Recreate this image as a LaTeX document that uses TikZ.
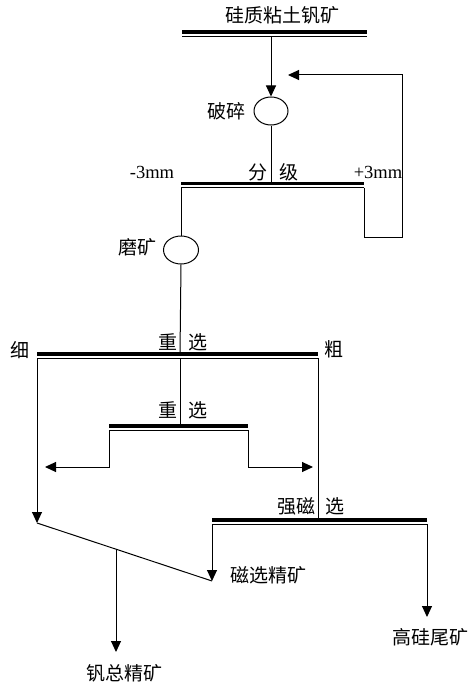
\documentclass[tikz,border=0pt]{standalone}
\usepackage{fontspec}
\setmainfont{Liberation Serif}
\newfontfamily\cjk{Noto Sans CJK SC}
\usetikzlibrary{shapes.geometric,arrows.meta}
\tikzset{
  ln/.style={line width=1bp,draw=black},
  arr/.style={ln,-{Triangle[length=11bp,width=10bp]}},
  thickbar/.style={line width=3.2bp,draw=black},
  thinbar/.style={line width=1bp,draw=black},
  lbl/.style={inner sep=0pt,font=\cjk\fontsize{19bp}{21bp}\selectfont},
  lat/.style={inner sep=0pt,font=\fontsize{18.5bp}{20bp}\selectfont},
  oval/.style={ellipse,draw=black,line width=1bp,minimum width=34bp,minimum height=28bp,inner sep=0pt}
}
\begin{document}
\begin{tikzpicture}[x=1bp,y=-1bp]
\useasboundingbox (0,0) rectangle (475,695);
% top bar
\coordinate (t1) at (182,32); \coordinate (t2) at (367,32);
\coordinate (t1b) at (182,36.5); \coordinate (t2b) at (367,36.5);
\draw[thickbar] (t1) -- (t2);
\draw[thinbar] (t1b) -- (t2b);
\node[lbl] (title) at (282,15) {硅质粘土钒矿};
\coordinate (tfeed) at (271,36.5);
% crusher
\node[oval] (crush) at (271,111) {};
\node[lbl] (crushl) at (226,111) {破碎};
\draw[arr] (tfeed) -- (crush.north);
% classification bar
\coordinate (c1) at (181,183.5); \coordinate (c2) at (364,183.5);
\coordinate (c1b) at (181,187.5); \coordinate (c2b) at (364,187.5);
\coordinate (cin) at (271,183.5);
\draw[thickbar] (c1) -- (c2);
\draw[thinbar] (c1b) -- (c2b);
\draw[ln] (crush.south) -- (cin);
\node[lbl] (fenji) at (273.5,172) {分\hspace{12bp}级};
\node[lat] (m3) at (152,172) {-3mm};
\node[lat] (p3) at (378,172) {+3mm};
% recycle
\coordinate (r1) at (364,237); \coordinate (r2) at (402,237);
\coordinate (r3) at (402,75); \coordinate (r4) at (288,75);
\draw[arr] (c2b) -- (r1) -- (r2) -- (r3) -- (r4);
% grinding
\node[oval,minimum width=35bp] (grind) at (181,250) {};
\node[lbl] (grindl) at (137,247) {磨矿};
\draw[ln] (c1b) -- (grind.north);
% gravity bar 1
\coordinate (g1) at (37,354); \coordinate (g2) at (318,354);
\coordinate (g1b) at (37,358); \coordinate (g2b) at (318,358);
\coordinate (gin) at (180,354); \coordinate (gout) at (180,358);
\draw[thickbar] (g1) -- (g2);
\draw[thinbar] (g1b) -- (g2b);
\draw[ln] (grind.south) -- (gin);
\node[lbl] (zx1) at (183,342) {重\hspace{11bp}选};
\node[lbl] (xi) at (20,350) {细};
\node[lbl] (cu) at (334,349) {粗};
% gravity bar 2
\coordinate (h1) at (109,426); \coordinate (h2) at (248,426);
\coordinate (h1b) at (109,430); \coordinate (h2b) at (248,430);
\coordinate (hin) at (180,426);
\draw[thickbar] (h1) -- (h2);
\draw[thinbar] (h1b) -- (h2b);
\draw[ln] (gout) -- (hin);
\node[lbl] (zx2) at (183,410) {重\hspace{11bp}选};
\coordinate (hl1) at (109,467); \coordinate (hl2) at (45,467);
\coordinate (hr1) at (248,467); \coordinate (hr2) at (313,467);
\draw[arr] (h1b) -- (hl1) -- (hl2);
\draw[arr] (h2b) -- (hr1) -- (hr2);
% fine branch
\coordinate (f1) at (37,523);
\coordinate (mc) at (212,581);
\coordinate (jn) at (116,549);
\coordinate (vt) at (116,652);
\draw[arr] (g1b) -- (f1);
\draw[ln] (f1) -- (mc);
\draw[arr] (jn) -- (vt);
\node[lbl] (vtot) at (124,673) {钒总精矿};
% magnetic bar
\coordinate (m1) at (212,520); \coordinate (m2) at (427,520);
\coordinate (m1b) at (212,524); \coordinate (m2b) at (427,524);
\coordinate (min) at (318,520);
\draw[thickbar] (m1) -- (m2);
\draw[thinbar] (m1b) -- (m2b);
\draw[ln] (g2b) -- (min);
\node[lbl] (qc) at (296,506) {强磁};
\node[lbl] (xu) at (335,506) {选};
\coordinate (tail) at (427,617);
\draw[arr] (m1b) -- (mc);
\draw[arr] (m2b) -- (tail);
\node[lbl] (mcl) at (268,575) {磁选精矿};
\node[lbl] (taill) at (430,637) {高硅尾矿};
\end{tikzpicture}
\end{document}
